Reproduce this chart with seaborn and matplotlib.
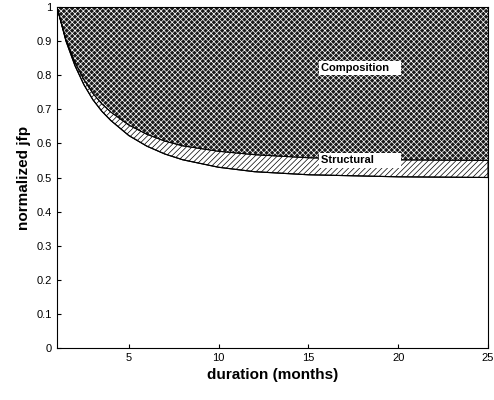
import numpy as np
import matplotlib.pyplot as plt
import seaborn as sns

sns.set_style("ticks")
plt.rcParams['font.family'] = ['Liberation Sans', 'DejaVu Sans']
plt.rcParams['hatch.linewidth'] = 0.5
plt.rcParams['text.color'] = 'black'
plt.rcParams['axes.labelcolor'] = 'black'
plt.rcParams['xtick.color'] = 'black'
plt.rcParams['ytick.color'] = 'black'

# duration (months) and normalized jfp boundaries
duration = [1, 1.5, 2, 2.5, 3, 3.5, 4, 5, 6, 7, 8, 10, 12, 15, 20, 25]
lower = [1.0, 0.9, 0.828, 0.772, 0.728, 0.694, 0.667, 0.623, 0.592, 0.569, 0.552, 0.53, 0.517, 0.508, 0.502, 0.50]
middle = [1.0, 0.905, 0.838, 0.787, 0.747, 0.716, 0.692, 0.654, 0.627, 0.607, 0.593, 0.577, 0.567, 0.558, 0.552, 0.55]
top = [1.0] * len(duration)

fig = plt.figure(figsize=(4.94, 4), dpi=100)
ax = fig.add_axes([57 / 494, 52 / 400, 431 / 494, 341 / 400])

ax.fill_between(duration, lower, middle, facecolor='white', edgecolor='black',
                hatch='//////', linewidth=0.8)
ax.fill_between(duration, middle, top, facecolor='#1a1a1a', edgecolor='white',
                hatch='xxxxxx', linewidth=0)
sns.lineplot(x=duration, y=middle, color='black', lw=0.8, ax=ax)
sns.lineplot(x=duration, y=lower, color='black', lw=0.8, ax=ax)

box = dict(facecolor='white', edgecolor='none', pad=1.5)
ax.text(15.7, 0.82, 'Composition   ', fontsize=8, fontweight='bold', va='center', bbox=box)
ax.text(15.7, 0.55, 'Structural        ', fontsize=8, fontweight='bold', va='center', bbox=box)

ax.set_xlim(1, 25)
ax.set_ylim(0, 1)
ax.set_xticks([5, 10, 15, 20, 25])
ax.set_yticks(np.arange(0, 1.01, 0.1))
ax.set_yticklabels(['0', '0.1', '0.2', '0.3', '0.4', '0.5', '0.6', '0.7', '0.8', '0.9', '1'])
ax.tick_params(labelsize=8, direction='in', length=3)
ax.set_xlabel('duration (months)', fontsize=11, fontweight='bold')
ax.set_ylabel('normalized jfp', fontsize=11, fontweight='bold')
for s in ax.spines.values():
    s.set_linewidth(0.8)
    s.set_color('black')

fig.savefig('out.png', dpi=100)
